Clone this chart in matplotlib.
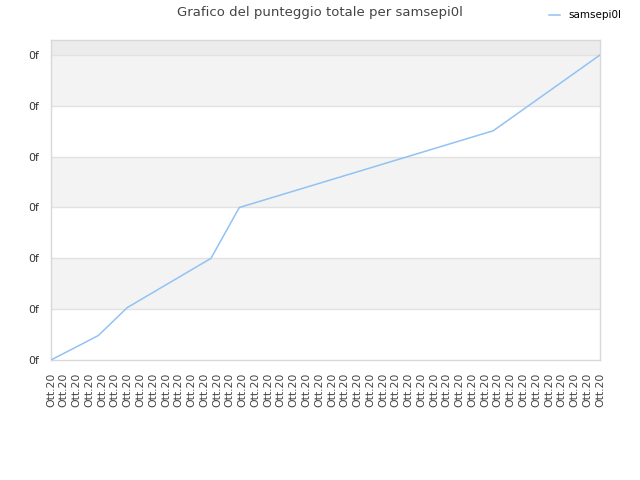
import matplotlib
matplotlib.use("Agg")
import matplotlib.pyplot as plt

title = "Grafico del punteggio totale per samsepi0l"
series_name = "samsepi0l"
x_labels = ["Ott.20"] * 44
y_labels = ["0f"] * 7
x_vals = [0.0, 3.70, 5.97, 12.53, 14.75, 34.64, 43.0]
y_vals = [0.0, 0.48, 1.03, 2.0, 3.0, 4.51, 6.0]

fig = plt.figure(figsize=(6.4, 4.8), dpi=100)
ax = fig.add_axes([51/640, 1-360/480, 549/640, 320/480])

ymax = 6.295
for k in range(7):
    if k % 2 == 1:
        ax.axhspan(k, k + 1, color="#f3f3f3", lw=0, zorder=0)
ax.axhspan(6, ymax, color="#ececec", lw=0, zorder=0)
for k in range(1, 7):
    ax.axhline(k, color="#e2e2e2", lw=1, zorder=1)

ax.plot(x_vals, y_vals, color="#92c2f4", lw=1.1, zorder=3, label=series_name)

ax.set_xlim(0, len(x_labels) - 1)
ax.set_ylim(0, ymax)
ax.set_xticks(range(len(x_labels)))
ax.set_xticklabels(x_labels, rotation=90, fontsize=7.8, color="#444444")
ax.set_yticks(range(len(y_labels)))
ax.set_yticklabels(y_labels, fontsize=7.8, color="#333333")
ax.tick_params(axis="x", length=0, pad=9)
ax.tick_params(axis="y", length=0, pad=8.5)
for s in ax.spines.values():
    s.set_color("#d8d8d8")
    s.set_linewidth(1)

fig.text(0.5, 1-12.5/480, title, ha="center", va="center", fontsize=9.5, color="#444444")
leg = fig.legend(loc="upper right", bbox_to_anchor=(0.985, 0.998), frameon=False,
                 fontsize=7.5, handlelength=1.0, handletextpad=0.8)

fig.savefig("out.png", dpi=100)
